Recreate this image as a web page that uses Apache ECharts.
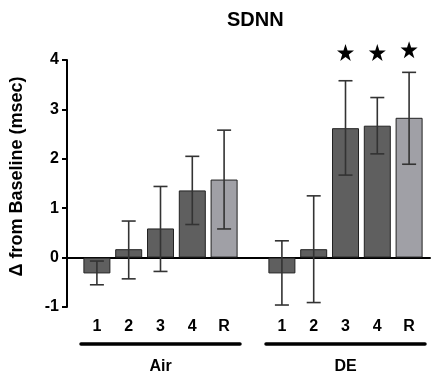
<!DOCTYPE html>
<html>
<head>
<meta charset="utf-8">
<script src="https://cdn.jsdelivr.net/npm/echarts@6/dist/echarts.min.js"></script>
<style>html,body{margin:0;padding:0;background:#fff}#c{width:431px;height:381px}</style>
</head>
<body>
<div id="c"></div>
<script>
var title = 'SDNN';
var yAxisName = 'Δ from Baseline (msec)';
var categories = ['1', '2', '3', '4', 'R'];
var groups = ['Air', 'DE'];
var airMean = [-0.32, 0.17, 0.59, 1.36, 1.58];
var airLow = [-0.55, -0.43, -0.28, 0.67, 0.58];
var airHigh = [-0.07, 0.74, 1.44, 2.05, 2.58];
var deMean = [-0.32, 0.17, 2.62, 2.67, 2.83];
var deLow = [-0.96, -0.91, 1.67, 2.10, 1.89];
var deHigh = [0.34, 1.25, 3.58, 3.24, 3.75];
var starCats = ['3', '4', 'R'];
var starY = [4.15, 4.15, 4.21];
var yTicks = [-1, 0, 1, 2, 3, 4];

var DARK = '#5f5f5f', LIGHT = '#a0a0a6', FONT = 'Liberation Sans, Arial, sans-serif';
var TOP = 60, HEIGHT = 247;
var STAR = 'path://M50,0 L61.8,35.3 L98.9,35.3 L68.9,57.3 L80.3,92.7 L50,70.9 L19.7,92.7 L31.1,57.3 L1.1,35.3 L38.2,35.3 Z';

function barData(vals) {
  return vals.map(function (v, i) {
    return { value: v, itemStyle: { color: categories[i] === 'R' ? LIGHT : DARK } };
  });
}
function errData(low, high) {
  return low.map(function (l, i) { return [i, l, high[i]]; });
}
function renderErr(params, api) {
  var x = api.value(0);
  var lo = api.coord([x, api.value(1)]);
  var hi = api.coord([x, api.value(2)]);
  var w = 7;
  var st = { stroke: '#333', lineWidth: 1.6 };
  return {
    type: 'group',
    children: [
      { type: 'line', shape: { x1: lo[0], y1: lo[1], x2: hi[0], y2: hi[1] }, style: st },
      { type: 'line', shape: { x1: lo[0] - w, y1: lo[1], x2: lo[0] + w, y2: lo[1] }, style: st },
      { type: 'line', shape: { x1: hi[0] - w, y1: hi[1], x2: hi[0] + w, y2: hi[1] }, style: st }
    ]
  };
}
function groupAxes(gi) {
  return [
    {
      type: 'category', gridIndex: gi, data: categories, position: 'bottom',
      axisLine: { show: false, onZero: false }, axisTick: { show: false },
      axisLabel: { fontFamily: FONT, fontSize: 16, fontWeight: 'bold', color: '#000', margin: 12 }
    },
    {
      type: 'category', gridIndex: gi, data: categories, position: 'bottom', offset: 37,
      axisLine: { show: true, onZero: false, lineStyle: { color: '#000', width: 3.5, cap: 'round' } },
      axisTick: { show: false }, axisLabel: { show: false },
      name: groups[gi - 1], nameLocation: 'middle', nameGap: 15,
      nameTextStyle: { fontFamily: FONT, fontSize: 16, fontWeight: 'bold', color: '#000' }
    }
  ];
}
var hiddenY = function (gi) {
  return { type: 'value', gridIndex: gi, min: -1, max: 4, interval: 1, show: false, splitLine: { show: false } };
};

var chart = echarts.init(document.getElementById('c'), null, { renderer: 'canvas' });
chart.setOption({
  animation: false,
  backgroundColor: '#fff',
  title: {
    text: title, left: 222, top: 5,
    textStyle: { fontFamily: FONT, fontSize: 20, fontWeight: 'bold', color: '#000' }
  },
  grid: [
    { left: 67, width: 363, top: TOP, height: HEIGHT },
    { left: 81, width: 159, top: TOP, height: HEIGHT },
    { left: 266, width: 159, top: TOP, height: HEIGHT }
  ],
  xAxis: [
    {
      type: 'value', gridIndex: 0, min: 0, max: 1,
      axisLine: { show: true, onZero: true, lineStyle: { color: '#000', width: 2 } },
      axisTick: { show: false }, axisLabel: { show: false }, splitLine: { show: false }
    }
  ].concat(groupAxes(1), groupAxes(2)),
  yAxis: [
    {
      type: 'value', gridIndex: 0, min: yTicks[0], max: yTicks[yTicks.length - 1], interval: 1,
      axisLine: { show: true, lineStyle: { color: '#000', width: 2 } },
      axisTick: { show: true, length: 5, lineStyle: { color: '#000', width: 2 } },
      axisLabel: { fontFamily: FONT, fontSize: 16, fontWeight: 'bold', color: '#000', margin: 8 },
      splitLine: { show: false },
      name: yAxisName, nameLocation: 'middle', nameRotate: 90, nameGap: 41,
      nameTextStyle: { fontFamily: FONT, fontSize: 18, fontWeight: 'bold', color: '#000', padding: [0, 0, 0, 14] }
    },
    hiddenY(1), hiddenY(2)
  ],
  series: [
    {
      type: 'bar', xAxisIndex: 1, yAxisIndex: 1, data: barData(airMean), barWidth: 27,
      itemStyle: { borderColor: '#222', borderWidth: 1 }
    },
    {
      type: 'bar', xAxisIndex: 3, yAxisIndex: 2, data: barData(deMean), barWidth: 27,
      itemStyle: { borderColor: '#222', borderWidth: 1 }
    },
    { type: 'custom', xAxisIndex: 1, yAxisIndex: 1, data: errData(airLow, airHigh), renderItem: renderErr, clip: false, z: 5 },
    { type: 'custom', xAxisIndex: 3, yAxisIndex: 2, data: errData(deLow, deHigh), renderItem: renderErr, clip: false, z: 5 },
    {
      type: 'scatter', xAxisIndex: 3, yAxisIndex: 2, clip: false,
      data: starCats.map(function (c, i) { return [c, starY[i]]; }),
      symbol: STAR, symbolSize: 17, itemStyle: { color: '#000', opacity: 1 }
    }
  ]
});
</script>
</body>
</html>
